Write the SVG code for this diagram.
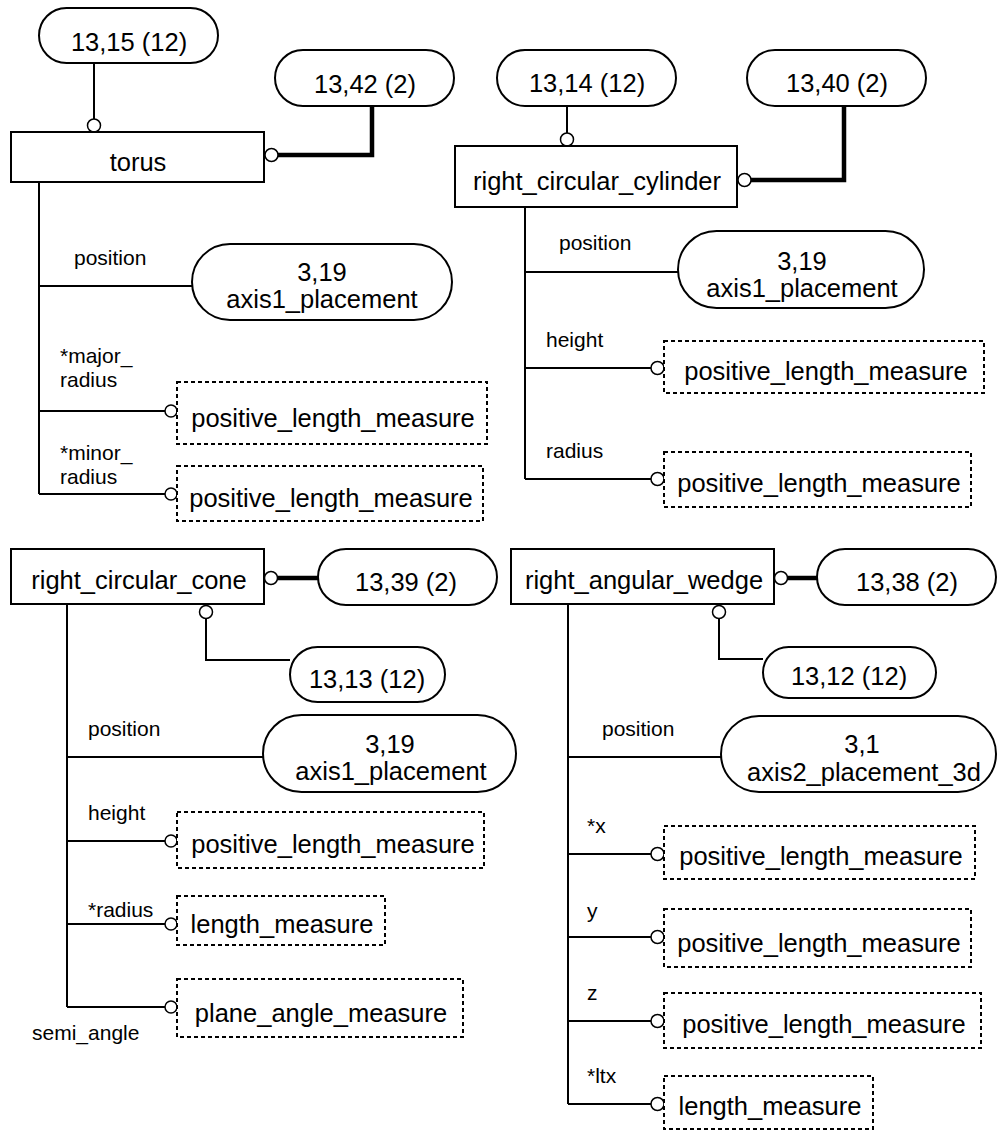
<svg xmlns="http://www.w3.org/2000/svg" width="997" height="1131" viewBox="0 0 997 1131">
  <style>
    .ent { fill: #fff; stroke: #000; stroke-width: 2; }
    .pill { fill: #fff; stroke: #000; stroke-width: 2; }
    .typ { fill: #fff; stroke: #000; stroke-width: 2; stroke-dasharray: 4 3; }
    .ln { fill: none; stroke: #000; stroke-width: 2; }
    .thick { fill: none; stroke: #000; stroke-width: 4.5; }
    .dot { fill: #fff; stroke: #000; stroke-width: 1.5; }
    text { font-family: "Liberation Sans", Arial, sans-serif; fill: #000; }
    .big { font-size: 25.5px; text-anchor: middle; }
    .lab { font-size: 21px; }
  </style>

  <!-- connectors -->
  <g id="connectors">
    <!-- torus -->
    <path class="ln" d="M94 63 V119"/>
    <circle class="dot" cx="94" cy="125.5" r="6.5"/>
    <path class="thick" d="M372 106 V155 H278"/>
    <circle class="dot" cx="271.5" cy="155" r="6.5"/>
    <path class="ln" d="M39 182 V494"/>
    <path class="ln" d="M39 286 H192"/>
    <path class="ln" d="M39 411 H165"/>
    <circle class="dot" cx="171" cy="411" r="6"/>
    <path class="ln" d="M39 494 H165"/>
    <circle class="dot" cx="171" cy="494" r="6"/>

    <!-- right_circular_cylinder -->
    <path class="ln" d="M567 106 V133"/>
    <circle class="dot" cx="567" cy="139.5" r="6.5"/>
    <path class="thick" d="M844 106 V180 H751"/>
    <circle class="dot" cx="744.5" cy="180" r="6.5"/>
    <path class="ln" d="M525 207 V479"/>
    <path class="ln" d="M525 272 H678"/>
    <path class="ln" d="M525 368 H651"/>
    <circle class="dot" cx="657.5" cy="368" r="6.5"/>
    <path class="ln" d="M525 479 H651"/>
    <circle class="dot" cx="657.5" cy="479" r="6.5"/>

    <!-- right_circular_cone -->
    <circle class="dot" cx="271" cy="578" r="6.5"/>
    <path class="thick" d="M277.5 578 H318"/>
    <circle class="dot" cx="206" cy="612" r="6.5"/>
    <path class="ln" d="M206 618.5 V660 H290"/>
    <path class="ln" d="M67 604 V1007"/>
    <path class="ln" d="M67 757 H263"/>
    <path class="ln" d="M67 841 H165"/>
    <circle class="dot" cx="171" cy="841" r="6"/>
    <path class="ln" d="M67 924 H165"/>
    <circle class="dot" cx="171" cy="924" r="6"/>
    <path class="ln" d="M67 1007 H165"/>
    <circle class="dot" cx="171" cy="1007" r="6"/>

    <!-- right_angular_wedge -->
    <circle class="dot" cx="781" cy="578" r="6.5"/>
    <path class="thick" d="M787.5 578 H817"/>
    <circle class="dot" cx="719" cy="612" r="6.5"/>
    <path class="ln" d="M719 618.5 V659 H763"/>
    <path class="ln" d="M568 604 V1104"/>
    <path class="ln" d="M568 757 H721"/>
    <path class="ln" d="M568 854 H651"/>
    <circle class="dot" cx="657.5" cy="854" r="6.5"/>
    <path class="ln" d="M568 937 H651"/>
    <circle class="dot" cx="657.5" cy="937" r="6.5"/>
    <path class="ln" d="M568 1021 H651"/>
    <circle class="dot" cx="657.5" cy="1021" r="6.5"/>
    <path class="ln" d="M568 1104 H651"/>
    <circle class="dot" cx="657.5" cy="1104" r="6.5"/>
  </g>

  <!-- attribute labels -->
  <g id="labels">
    <text class="lab" x="74" y="265">position</text>
    <text class="lab" x="60" y="363">*major_</text>
    <text class="lab" x="60" y="387">radius</text>
    <text class="lab" x="60" y="460">*minor_</text>
    <text class="lab" x="60" y="484">radius</text>

    <text class="lab" x="559" y="250">position</text>
    <text class="lab" x="546" y="347">height</text>
    <text class="lab" x="546" y="458">radius</text>

    <text class="lab" x="88" y="736">position</text>
    <text class="lab" x="88" y="820">height</text>
    <text class="lab" x="88" y="917">*radius</text>
    <text class="lab" x="32" y="1040">semi_angle</text>

    <text class="lab" x="602" y="736">position</text>
    <text class="lab" x="587" y="833">*x</text>
    <text class="lab" x="587" y="918">y</text>
    <text class="lab" x="587" y="1000">z</text>
    <text class="lab" x="587" y="1083">*ltx</text>
  </g>

  <!-- torus -->
  <g id="torus">
    <rect class="ent" x="11" y="132" width="253" height="50"/>
    <text class="big" x="138" y="171">torus</text>
  </g>
  <g id="ref-13-15">
    <rect class="pill" x="39" y="8" width="179" height="55" rx="27.5"/>
    <text class="big" x="129" y="51">13,15 (12)</text>
  </g>
  <g id="ref-13-42">
    <rect class="pill" x="275" y="50" width="179" height="56" rx="28"/>
    <text class="big" x="365" y="93">13,42 (2)</text>
  </g>
  <g id="torus-position">
    <rect class="pill" x="192" y="244" width="260" height="76" rx="38"/>
    <text class="big"><tspan x="322" y="281">3,19</tspan><tspan x="322" y="308">axis1_placement</tspan></text>
  </g>
  <g id="torus-major-radius">
    <rect class="typ" x="177" y="382" width="310" height="62"/>
    <text class="big" x="333" y="427">positive_length_measure</text>
  </g>
  <g id="torus-minor-radius">
    <rect class="typ" x="177" y="466" width="306" height="55"/>
    <text class="big" x="331" y="507">positive_length_measure</text>
  </g>

  <!-- right_circular_cylinder -->
  <g id="right_circular_cylinder">
    <rect class="ent" x="455" y="146" width="282" height="61"/>
    <text class="big" x="597" y="190">right_circular_cylinder</text>
  </g>
  <g id="ref-13-14">
    <rect class="pill" x="497" y="50" width="179" height="56" rx="28"/>
    <text class="big" x="587" y="92">13,14 (12)</text>
  </g>
  <g id="ref-13-40">
    <rect class="pill" x="747" y="50" width="179" height="56" rx="28"/>
    <text class="big" x="837" y="92">13,40 (2)</text>
  </g>
  <g id="cylinder-position">
    <rect class="pill" x="678" y="231" width="246" height="77" rx="38.5"/>
    <text class="big"><tspan x="802" y="270">3,19</tspan><tspan x="802" y="297">axis1_placement</tspan></text>
  </g>
  <g id="cylinder-height">
    <rect class="typ" x="664" y="341" width="320" height="52"/>
    <text class="big" x="826" y="380">positive_length_measure</text>
  </g>
  <g id="cylinder-radius">
    <rect class="typ" x="664" y="452" width="307" height="55"/>
    <text class="big" x="819" y="492">positive_length_measure</text>
  </g>

  <!-- right_circular_cone -->
  <g id="right_circular_cone">
    <rect class="ent" x="11" y="549" width="253" height="55"/>
    <text class="big" x="139" y="589">right_circular_cone</text>
  </g>
  <g id="ref-13-39">
    <rect class="pill" x="318" y="549" width="179" height="56" rx="28"/>
    <text class="big" x="406" y="591">13,39 (2)</text>
  </g>
  <g id="ref-13-13">
    <rect class="pill" x="290" y="647" width="155" height="55" rx="27.5"/>
    <text class="big" x="367" y="688">13,13 (12)</text>
  </g>
  <g id="cone-position">
    <rect class="pill" x="263" y="715" width="253" height="77" rx="38.5"/>
    <text class="big"><tspan x="390" y="753">3,19</tspan><tspan x="391" y="780">axis1_placement</tspan></text>
  </g>
  <g id="cone-height">
    <rect class="typ" x="177" y="812" width="307" height="56"/>
    <text class="big" x="333" y="853">positive_length_measure</text>
  </g>
  <g id="cone-radius">
    <rect class="typ" x="177" y="896" width="208" height="49"/>
    <text class="big" x="282" y="933">length_measure</text>
  </g>
  <g id="cone-semi-angle">
    <rect class="typ" x="177" y="979" width="286" height="58"/>
    <text class="big" x="321" y="1022">plane_angle_measure</text>
  </g>

  <!-- right_angular_wedge -->
  <g id="right_angular_wedge">
    <rect class="ent" x="511" y="549" width="263" height="55"/>
    <text class="big" x="644" y="589">right_angular_wedge</text>
  </g>
  <g id="ref-13-38">
    <rect class="pill" x="817" y="549" width="179" height="56" rx="28"/>
    <text class="big" x="907" y="591">13,38 (2)</text>
  </g>
  <g id="ref-13-12">
    <rect class="pill" x="763" y="647" width="173" height="51" rx="25.5"/>
    <text class="big" x="849" y="685">13,12 (12)</text>
  </g>
  <g id="wedge-position">
    <rect class="pill" x="721" y="716" width="275" height="76" rx="38"/>
    <text class="big"><tspan x="862" y="753">3,1</tspan><tspan x="864" y="781">axis2_placement_3d</tspan></text>
  </g>
  <g id="wedge-x">
    <rect class="typ" x="664" y="826" width="311" height="53"/>
    <text class="big" x="821" y="865">positive_length_measure</text>
  </g>
  <g id="wedge-y">
    <rect class="typ" x="664" y="909" width="307" height="58"/>
    <text class="big" x="819" y="952">positive_length_measure</text>
  </g>
  <g id="wedge-z">
    <rect class="typ" x="664" y="993" width="317" height="55"/>
    <text class="big" x="824" y="1033">positive_length_measure</text>
  </g>
  <g id="wedge-ltx">
    <rect class="typ" x="664" y="1076" width="209" height="53"/>
    <text class="big" x="770" y="1115">length_measure</text>
  </g>
</svg>
